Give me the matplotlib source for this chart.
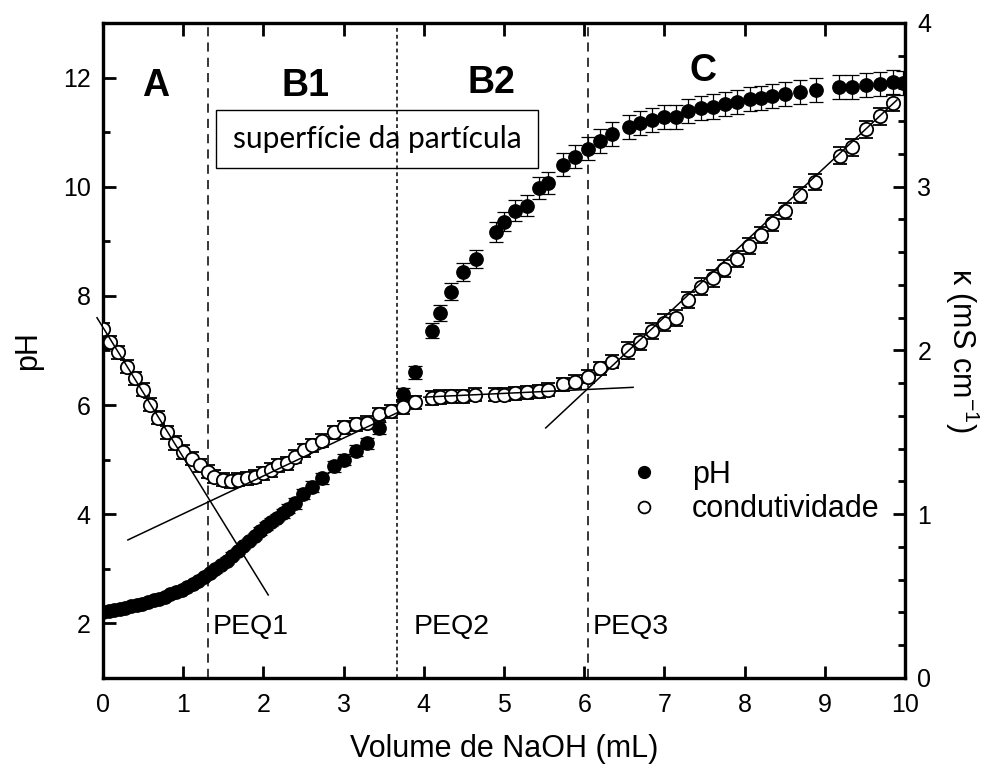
"""pH and conductivity titration curves vs volume of NaOH."""

import matplotlib
matplotlib.use('Agg')
from matplotlib import pyplot as plt
from matplotlib.patches import Rectangle
from matplotlib.lines import Line2D
from matplotlib.ticker import MultipleLocator

plt.rcParams['font.family'] = ['Liberation Sans', 'DejaVu Sans']
plt.rcParams['mathtext.fontset'] = 'custom'
plt.rcParams['mathtext.rm'] = 'Liberation Sans'

# pH curve (left axis)
ph_vol = [0.00, 0.07, 0.14, 0.21, 0.28, 0.35, 0.42, 0.49, 0.56, 0.63,
          0.70, 0.77, 0.84, 0.91, 0.98, 1.05, 1.12, 1.19, 1.26, 1.33,
          1.40, 1.47, 1.54, 1.61, 1.68, 1.75, 1.82, 1.89, 1.96, 2.03,
          2.10, 2.17, 2.24, 2.31, 2.39, 2.49, 2.60, 2.73, 2.88, 3.00,
          3.15, 3.29, 3.44, 3.74, 3.89, 4.10, 4.20, 4.34, 4.49, 4.65,
          4.90, 5.00, 5.14, 5.29, 5.44, 5.55, 5.74, 5.89, 6.05, 6.20,
          6.35, 6.56, 6.70, 6.85, 7.00, 7.14, 7.29, 7.46, 7.60, 7.76,
          7.90, 8.07, 8.20, 8.34, 8.50, 8.69, 8.89, 9.18, 9.34, 9.51,
          9.69, 9.85, 9.98]
ph_val = [2.20, 2.22, 2.24, 2.26, 2.28, 2.31, 2.33, 2.36, 2.39, 2.42,
          2.45, 2.49, 2.53, 2.57, 2.62, 2.67, 2.72, 2.78, 2.85, 2.92,
          2.99, 3.07, 3.15, 3.24, 3.33, 3.42, 3.51, 3.60, 3.69, 3.78,
          3.86, 3.94, 4.02, 4.10, 4.20, 4.37, 4.50, 4.66, 4.88, 5.00,
          5.16, 5.30, 5.58, 6.20, 6.60, 7.36, 7.69, 8.08, 8.44, 8.68,
          9.17, 9.36, 9.56, 9.65, 9.98, 10.07, 10.40, 10.55, 10.70, 10.84,
          10.96, 11.10, 11.17, 11.23, 11.27, 11.28, 11.38, 11.45, 11.47, 11.52,
          11.56, 11.61, 11.63, 11.67, 11.70, 11.74, 11.78, 11.83, 11.83, 11.87,
          11.89, 11.91, 11.90]
ph_err = [0.05, 0.05, 0.05, 0.05, 0.05, 0.05, 0.05, 0.05, 0.05, 0.05,
          0.05, 0.05, 0.05, 0.05, 0.05, 0.05, 0.05, 0.05, 0.05, 0.05,
          0.06, 0.06, 0.06, 0.06, 0.06, 0.06, 0.06, 0.06, 0.07, 0.07,
          0.07, 0.07, 0.08, 0.08, 0.10, 0.10, 0.10, 0.10, 0.10, 0.10,
          0.10, 0.10, 0.11, 0.12, 0.12, 0.14, 0.15, 0.16, 0.17, 0.17,
          0.18, 0.18, 0.19, 0.19, 0.20, 0.20, 0.21, 0.21, 0.21, 0.22,
          0.22, 0.22, 0.22, 0.22, 0.22, 0.22, 0.22, 0.22, 0.22, 0.22,
          0.22, 0.22, 0.22, 0.22, 0.22, 0.22, 0.22, 0.22, 0.22, 0.22,
          0.22, 0.22, 0.22]

# conductivity (right axis, mS/cm)
k_vol = [0.00, 0.09, 0.19, 0.30, 0.40, 0.50, 0.59, 0.69, 0.80, 0.90,
         1.00, 1.11, 1.21, 1.31, 1.39, 1.50, 1.60, 1.68, 1.79, 1.90,
         2.00, 2.10, 2.18, 2.29, 2.39, 2.50, 2.60, 2.73, 2.88, 3.00,
         3.15, 3.29, 3.44, 3.59, 3.74, 3.89, 4.10, 4.20, 4.34, 4.49,
         4.64, 4.89, 5.00, 5.14, 5.29, 5.44, 5.55, 5.74, 5.89, 6.05,
         6.20, 6.35, 6.55, 6.70, 6.85, 7.00, 7.14, 7.29, 7.46, 7.60,
         7.74, 7.90, 8.06, 8.20, 8.34, 8.50, 8.69, 8.88, 9.19, 9.34,
         9.51, 9.69, 9.85]
k_val = [2.13, 2.05, 1.99, 1.90, 1.83, 1.76, 1.67, 1.59, 1.50, 1.435,
         1.38, 1.34, 1.30, 1.26, 1.23, 1.21, 1.20, 1.21, 1.22, 1.23,
         1.25, 1.27, 1.30, 1.31, 1.35, 1.39, 1.42, 1.45, 1.50, 1.53,
         1.55, 1.56, 1.61, 1.63, 1.655, 1.685, 1.71, 1.716, 1.72, 1.72,
         1.73, 1.73, 1.73, 1.74, 1.745, 1.75, 1.76, 1.795, 1.81, 1.84,
         1.89, 1.93, 2.00, 2.05, 2.12, 2.17, 2.20, 2.31, 2.39, 2.44,
         2.50, 2.56, 2.64, 2.705, 2.78, 2.85, 2.95, 3.03, 3.19, 3.24,
         3.35, 3.43, 3.51]
k_err = [0.04] * 52 + [0.05] * 21

# linear fits and equivalence points
fit1_x, fit1_y = [-0.075, 2.06], [2.20, 0.507]
fit2_x, fit2_y = [0.31, 3.67], [0.843, 1.62]
fit3_x, fit3_y = [4.00, 6.61], [1.715, 1.775]
fit4_x, fit4_y = [5.52, 9.90], [1.527, 3.53]
peq_x = [1.31, 3.67, 6.05]
peq_labels = ['PEQ1', 'PEQ2', 'PEQ3']
peq_label_x = [1.37, 3.87, 6.11]
peq_styles = [(0, (6, 4)), (0, (2.5, 2)), (0, (6, 4))]

region_labels = ['A', 'B1', 'B2', 'C']
region_x = [0.65, 2.52, 4.84, 7.48]
region_y = [11.85, 11.85, 11.9, 12.12]

fig = plt.figure(figsize=(9.84, 7.64), dpi=100)
ax = fig.add_axes([0.1047, 0.1126, 0.8150, 0.8573])
ax2 = ax.twinx()

for xv, ls in zip(peq_x, peq_styles):
    ax.axvline(xv, color='black', lw=1.1, linestyle=ls, zorder=1)

ax.errorbar(ph_vol, ph_val, yerr=ph_err, fmt='o', color='black',
            markersize=9.6, ecolor='black', elinewidth=0.9, capsize=4.8,
            capthick=0.9, zorder=3)
ax2.errorbar(k_vol, k_val, yerr=k_err, fmt='o', color='black',
             markerfacecolor='white', markeredgecolor='black',
             markeredgewidth=1.3, markersize=9.6, ecolor='black',
             elinewidth=0.9, capsize=4.8, capthick=0.9, zorder=3)
for fx, fy in [(fit1_x, fit1_y), (fit2_x, fit2_y), (fit3_x, fit3_y), (fit4_x, fit4_y)]:
    ax2.plot(fx, fy, color='black', lw=1.1, zorder=4, clip_on=False)

ax.set_xlim(0, 10)
ax.set_ylim(1, 13)
ax2.set_ylim(0, 4)
ax.xaxis.set_major_locator(MultipleLocator(1))
ax.yaxis.set_major_locator(MultipleLocator(2))
ax.yaxis.set_minor_locator(MultipleLocator(1))
ax2.yaxis.set_major_locator(MultipleLocator(1))
ax2.yaxis.set_minor_locator(MultipleLocator(0.2))

ax.tick_params(axis='x', which='major', direction='in', top=True, length=9,
               width=2, labelsize=18, pad=11)
ax.tick_params(axis='y', which='major', direction='in', length=9, width=2,
               labelsize=18, pad=9)
ax.tick_params(axis='y', which='minor', direction='in', length=5, width=2)
ax2.tick_params(axis='y', which='major', direction='in', length=9, width=2,
                labelsize=18, pad=9)
ax2.tick_params(axis='y', which='minor', direction='in', length=5, width=2)
for a in (ax, ax2):
    for s in a.spines.values():
        s.set_linewidth(2.3)

ax.set_xlabel('Volume de NaOH (mL)', fontsize=22, labelpad=12)
ax.set_ylabel('pH', fontsize=22, labelpad=14)
ax2.set_ylabel(r'κ (mS cm$^{\mathrm{-1}}$)', fontsize=22, rotation=270,
               labelpad=36)

for lab, xv, yv in zip(region_labels, region_x, region_y):
    ax.text(xv, yv, lab, fontsize=27, fontweight='bold', ha='center', va='center')

ax.add_patch(Rectangle((1.41, 10.35), 4.01, 1.06, fill=False, edgecolor='black',
                       lw=1.0, zorder=5))
ax.text(3.415, 10.88, 'superfície da partícula', fontsize=21.5, family='Lato',
        ha='center', va='center', zorder=6)

for xv, lab in zip(peq_label_x, peq_labels):
    ax.text(xv, 1.93, lab, fontsize=20.5, ha='left', va='center')

handles = [Line2D([], [], marker='o', ls='none', color='black', markersize=8.5),
           Line2D([], [], marker='o', ls='none', markerfacecolor='white',
                  markeredgecolor='black', markeredgewidth=1.3, markersize=8.5)]
ax.legend(handles, ['pH', 'condutividade'], loc='upper left',
          bbox_to_anchor=(0.612, 0.375), frameon=False, fontsize=22,
          handletextpad=0.8, labelspacing=0.15, handlelength=1.5)

plt.savefig('out.png', dpi=100)
